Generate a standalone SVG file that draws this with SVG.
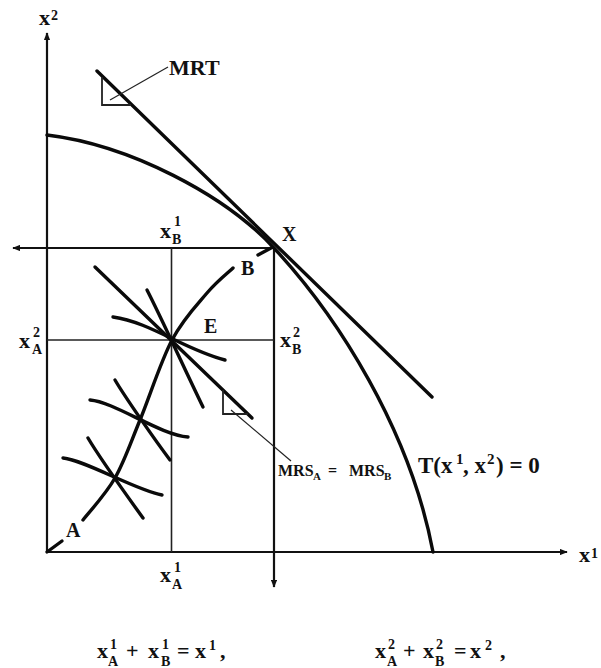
<svg xmlns="http://www.w3.org/2000/svg" width="601" height="668" viewBox="0 0 601 668">
<style>
.ax{stroke:#111;stroke-width:2.2;fill:none}
.gr{stroke:#222;stroke-width:1.6;fill:none}
.cv{stroke:#0a0a0a;stroke-width:3.4;fill:none;stroke-linecap:round}
.ln{stroke:#0a0a0a;stroke-width:3.4;fill:none;stroke-linecap:round}
.th{stroke:#222;stroke-width:1.2;fill:none}
.tri{stroke:#222;stroke-width:1.8;fill:none}
text{font-family:"Liberation Serif","Times New Roman",serif;font-weight:bold;fill:#111}
.lb{font-size:20px}
.mrt{font-size:22px}
.mx{font-size:22px}
.sm{font-size:14px}
.ms{font-size:16px}
.mss{font-size:11px}
.tt{font-size:23px}
.tts{font-size:15px}
</style>
<defs>
<marker id="ah" viewBox="0 0 10 8" refX="9" refY="4" markerWidth="8" markerHeight="6.4" markerUnits="userSpaceOnUse" orient="auto">
<path d="M0,0 L10,4 L0,8 z" fill="#111"/>
</marker>
</defs>
<rect width="601" height="668" fill="#fff"/>

<g id="connectors">
<line class="ax" x1="47" y1="552" x2="47" y2="33" marker-end="url(#ah)"/>
<line class="ax" x1="47" y1="552" x2="567" y2="552" marker-end="url(#ah)"/>
<line class="ax" x1="274" y1="248" x2="13" y2="248" marker-end="url(#ah)"/>
<line class="ax" x1="274" y1="248" x2="274" y2="587" marker-end="url(#ah)"/>
<line class="gr" x1="171.5" y1="248" x2="171.5" y2="552"/>
<line class="gr" x1="47" y1="340" x2="274" y2="340"/>
</g>

<g id="frontier">
<path class="cv" d="M47,135 C130,145 225,195 274,248 C338,317 410,430 433,552"/>
</g>

<g id="mrt-line">
<line class="ln" x1="97" y1="71" x2="432" y2="397"/>
<path class="tri" d="M102,77 L102,105 L131,105"/>
<line class="th" x1="110" y1="100" x2="168" y2="67"/>
</g>

<g id="contract-curve">
<path class="cv" d="M47,552 L62,541"/>
<path class="cv" d="M83,520 C88.3,513 105.5,494.7 115,478 C124.5,461.3 130.5,443 140,420 C149.5,397 160.8,361.2 172,340 C183.2,318.8 196.8,305 207,293 C217.2,281 228.7,272.2 233,268"/>
<path class="cv" d="M258,255 L271,248"/>
</g>

<g id="price-line">
<line class="ln" x1="95" y1="267" x2="252" y2="418"/>
<path class="tri" d="M223,390 L223,414 L248,414"/>
<line class="th" x1="231" y1="410" x2="291" y2="461"/>
</g>

<g id="indifference-curves">
<path class="cv" d="M113,317 C150,322 185,350 225,360"/>
<path class="cv" d="M147,290 C160,315 185,370 203,407"/>
<path class="cv" d="M90,400 C115,402 160,435 188,437"/>
<path class="cv" d="M115,380 C125,397 155,440 170,460"/>
<path class="cv" d="M63,458 C85,460 135,490 162,495"/>
<path class="cv" d="M88,438 C98,455 130,500 143,518"/>
</g>

<g id="labels">
<text class="mx" x="39" y="25">x<tspan class="sm" x="51" y="20">2</tspan></text>
<text class="mx" x="579" y="562">x<tspan class="sm" x="591" y="558">1</tspan></text>
<text class="mrt" x="169" y="75">MRT</text>
<text class="lb" x="282" y="241">X</text>
<text class="lb" x="204" y="333">E</text>
<text class="lb" x="241" y="275">B</text>
<text class="lb" x="66" y="537">A</text>

<text class="mx" x="160" y="238">x<tspan class="sm" x="174" y="226">1</tspan><tspan class="sm" x="172" y="244">B</tspan></text>
<text class="mx" x="19" y="348">x<tspan class="sm" x="33" y="337">2</tspan><tspan class="sm" x="32" y="354">A</tspan></text>
<text class="mx" x="280" y="347">x<tspan class="sm" x="293" y="337">2</tspan><tspan class="sm" x="292" y="354">B</tspan></text>
<text class="mx" x="160" y="582">x<tspan class="sm" x="174" y="572">1</tspan><tspan class="sm" x="172" y="589">A</tspan></text>

<text class="ms" x="278" y="476">MRS<tspan class="mss" x="313" y="480">A</tspan><tspan x="328" y="476">=</tspan><tspan x="349" y="476">MRS</tspan><tspan class="mss" x="384" y="480">B</tspan></text>

<text class="tt" x="418" y="473">T(x<tspan class="tts" x="456" y="464">1</tspan><tspan x="463" y="473">, x</tspan><tspan class="tts" x="487" y="464">2</tspan><tspan x="496" y="473">) = 0</tspan></text>

<text class="mx" x="97" y="658">x<tspan class="sm" x="110" y="649">1</tspan><tspan class="sm" x="108" y="666">A</tspan><tspan x="126" y="658">+</tspan><tspan x="148" y="658">x</tspan><tspan class="sm" x="162" y="649">1</tspan><tspan class="sm" x="161" y="666">B</tspan><tspan x="177" y="658">=</tspan><tspan x="195" y="658">x</tspan><tspan class="sm" x="209" y="650">1</tspan><tspan x="220" y="658">,</tspan></text>

<text class="mx" x="375" y="658">x<tspan class="sm" x="388" y="649">2</tspan><tspan class="sm" x="387" y="666">A</tspan><tspan x="403" y="658">+</tspan><tspan x="423" y="658">x</tspan><tspan class="sm" x="436" y="649">2</tspan><tspan class="sm" x="435" y="666">B</tspan><tspan x="454" y="658">=</tspan><tspan x="470" y="658">x</tspan><tspan class="sm" x="485" y="650">2</tspan><tspan x="500" y="658">,</tspan></text>
</g>
</svg>
